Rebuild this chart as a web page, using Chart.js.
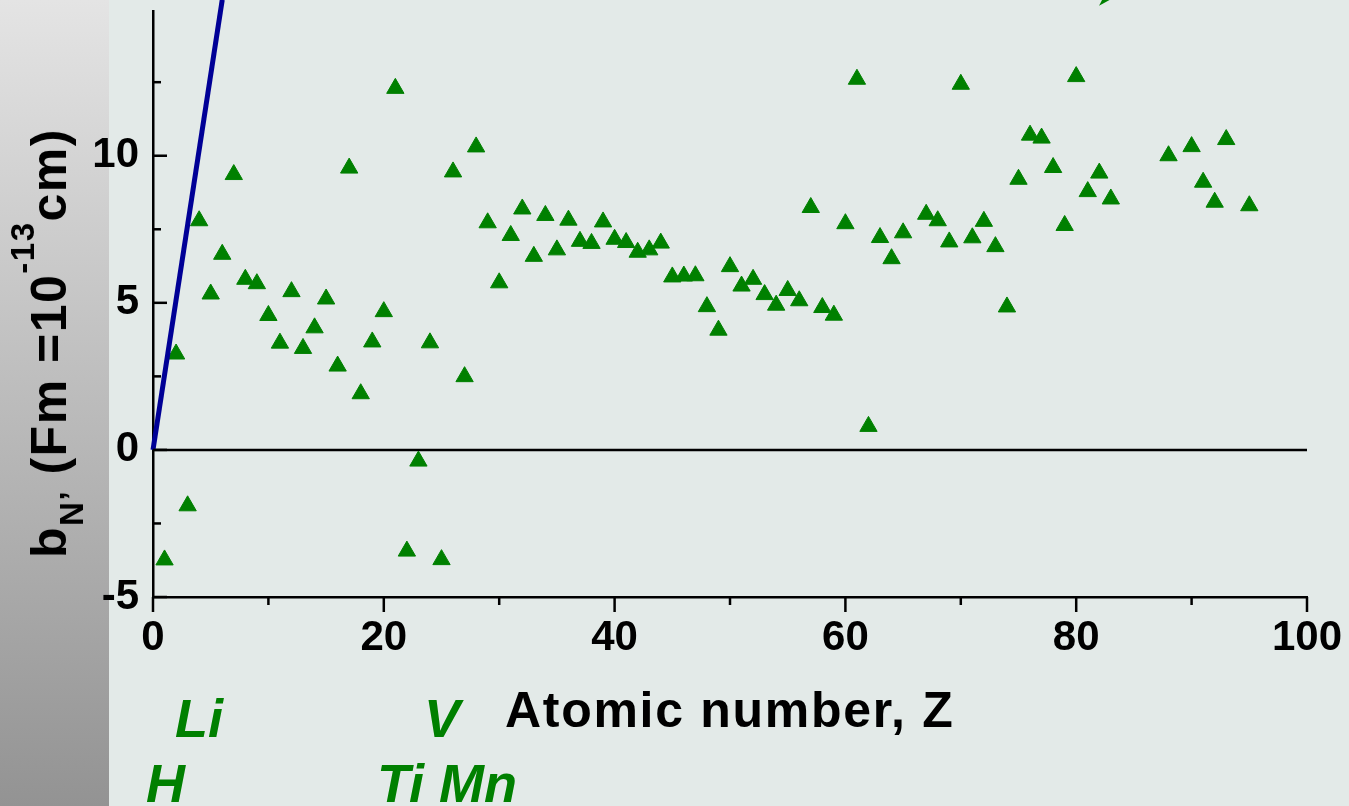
<!DOCTYPE html>
<html>
<head>
<meta charset="utf-8">
<script src="https://cdn.jsdelivr.net/npm/chart.js@4.4.1/dist/chart.umd.min.js"></script>
<style>
html,body{margin:0;padding:0;}
body{width:1349px;height:806px;position:relative;overflow:hidden;background:#e3eae8;font-family:"Liberation Sans",Arial,sans-serif;}
#strip{position:absolute;left:0;top:0;width:109px;height:806px;background:linear-gradient(#e4e4e4,#939393);}
#c{position:absolute;left:0;top:0;}
.t{position:absolute;white-space:nowrap;font-weight:bold;color:#000;}
.sub{font-size:33px;position:relative;top:17px;line-height:0;}
.sup{font-size:33px;position:relative;top:-32px;line-height:0;}
.el{position:absolute;white-space:nowrap;font-weight:bold;font-style:italic;color:#008000;font-size:54px;line-height:54px;}
</style>
</head>
<body>
<div id="strip"></div>
<canvas id="c" width="1349" height="806"></canvas>
<div class="t" id="xt" style="left:505px;top:685px;font-size:50px;line-height:50px;letter-spacing:1.7px;">Atomic number, Z</div>
<div class="t" id="yt" style="left:49px;top:343px;font-size:50px;line-height:50px;letter-spacing:1.5px;transform:translate(-50%,-50%) rotate(-90deg);">b<span class="sub">N’</span> (Fm =10<span class="sup">-13</span>cm)</div>
<div class="el" style="left:175px;top:691px;">Li</div>
<div class="el" style="left:424px;top:691px;">V</div>
<div class="el" style="left:146px;top:756px;">H</div>
<div class="el" style="left:377px;top:756px;">Ti Mn</div>
<script>
// Atomic number Z and coherent neutron scattering length b (fm)
const Z = [1,2,3,4,5,6,7,8,9,10,11,12,13,14,15,16,17,18,19,20,
  21,22,23,24,25,26,27,28,29,30,31,32,33,34,35,36,37,38,39,40,
  41,42,43,44,45,46,47,48,49,50,51,52,53,54,55,56,57,58,59,60,
  61,62,63,64,65,67,68,69,70,71,72,73,74,75,76,77,78,79,80,
  81,82,83,88,90,91,92,93,95];
const bN = [-3.74,3.26,-1.90,7.79,5.30,6.65,9.36,5.80,5.65,4.57,3.63,5.38,3.45,4.15,5.13,2.85,9.58,1.91,3.67,4.70,
  12.29,-3.44,-0.38,3.64,-3.73,9.45,2.49,10.30,7.72,5.68,7.29,8.19,6.58,7.97,6.80,7.81,7.09,7.02,7.75,7.16,
  7.05,6.72,6.80,7.03,5.88,5.91,5.92,4.87,4.07,6.23,5.57,5.80,5.28,4.92,5.42,5.07,8.24,4.84,4.58,7.69,
  12.60,0.80,7.22,6.50,7.38,8.01,7.79,7.07,12.43,7.21,7.77,6.91,4.86,9.20,10.70,10.60,9.60,7.63,12.69,
  8.78,9.41,8.53,10.00,10.31,9.10,8.42,10.55,8.30];
// blue reference line
const lineX = [0, 6.0];
const lineY = [0, 15.3];
// axis ticks
const xTickLabels = [0,20,40,60,80,100];
const xMinorTicks = [10,30,50,70,90];
const yTickLabels = [-5,0,5,10];
const yMinorTicks = [-2.5,2.5,7.5,12.5];
// partial arrowhead at top (data coordinates)
const arrowX = [81.98, 82.3, 83.1];
const arrowY = [15.1, 15.34, 15.34];

const FONT = '"Liberation Sans", Arial, sans-serif';

const decor = {
  id: 'decor',
  beforeDatasetsDraw(chart) {
    const {ctx, chartArea: a, scales: {y}} = chart;
    const p = y.getPixelForValue(0);
    ctx.save();
    ctx.strokeStyle = '#000'; ctx.lineWidth = 2.5;
    ctx.beginPath(); ctx.moveTo(a.left, p); ctx.lineTo(a.right, p); ctx.stroke();
    ctx.restore();
  },
  afterDraw(chart) {
    const {ctx, chartArea: a, scales: {x, y}} = chart;
    ctx.save();
    ctx.strokeStyle = '#000'; ctx.lineWidth = 2.5; ctx.lineCap = 'butt';
    const seg = (x1, y1, x2, y2) => { ctx.beginPath(); ctx.moveTo(x1, y1); ctx.lineTo(x2, y2); ctx.stroke(); };
    xTickLabels.forEach(v => { const p = x.getPixelForValue(v); seg(p, a.bottom, p, a.bottom + 15); });
    xMinorTicks.forEach(v => { const p = x.getPixelForValue(v); seg(p, a.bottom, p, a.bottom + 8); });
    yTickLabels.forEach(v => { const p = y.getPixelForValue(v); seg(a.left, p, a.left + 14, p); });
    yMinorTicks.forEach(v => { const p = y.getPixelForValue(v); seg(a.left, p, a.left + 8, p); });
    // arrowhead
    ctx.fillStyle = '#008000';
    ctx.beginPath();
    arrowX.forEach((vx, i) => {
      const px = x.getPixelForValue(vx), py = y.getPixelForValue(arrowY[i]);
      if (i === 0) ctx.moveTo(px, py); else ctx.lineTo(px, py);
    });
    ctx.closePath(); ctx.fill();
    ctx.restore();
  }
};

new Chart(document.getElementById('c'), {
  type: 'scatter',
  data: {
    datasets: [
      {
        data: lineX.map((v, i) => ({x: v, y: lineY[i]})),
        showLine: true, pointRadius: 0, borderColor: '#000096', borderWidth: 5,
        clip: false, fill: false
      },
      {
        data: Z.map((z, i) => ({x: z, y: bN[i]})),
        pointStyle: 'triangle', pointRadius: 10, pointHoverRadius: 10,
        backgroundColor: '#008000', borderColor: '#008000', borderWidth: 1,
        showLine: false
      }
    ]
  },
  options: {
    responsive: false, animation: false, devicePixelRatio: 1,
    layout: {padding: {left: 0, right: 42, top: 11, bottom: 0}},
    plugins: {legend: {display: false}, tooltip: {enabled: false}},
    scales: {
      x: {
        type: 'linear', min: 0, max: 100,
        afterBuildTicks: s => { s.ticks = xTickLabels.map(v => ({value: v})); },
        ticks: {font: {family: FONT, size: 42, weight: 'bold'}, color: '#000', padding: 16, maxRotation: 0, autoSkip: false},
        grid: {display: false, drawTicks: false},
        border: {display: true, color: '#000', width: 2.5},
        afterFit: s => { s.height = 209; s.paddingLeft = 0; s.paddingRight = 0; }
      },
      y: {
        type: 'linear', min: -5, max: 14.92,
        afterBuildTicks: s => { s.ticks = yTickLabels.map(v => ({value: v})); },
        ticks: {font: {family: FONT, size: 42, weight: 'bold'}, color: '#000', padding: 14, autoSkip: false},
        grid: {display: false, drawTicks: false},
        border: {display: true, color: '#000', width: 2.5},
        afterFit: s => { s.width = 153; s.paddingTop = 0; s.paddingBottom = 0; }
      }
    }
  },
  plugins: [decor]
});
</script>
</body>
</html>
